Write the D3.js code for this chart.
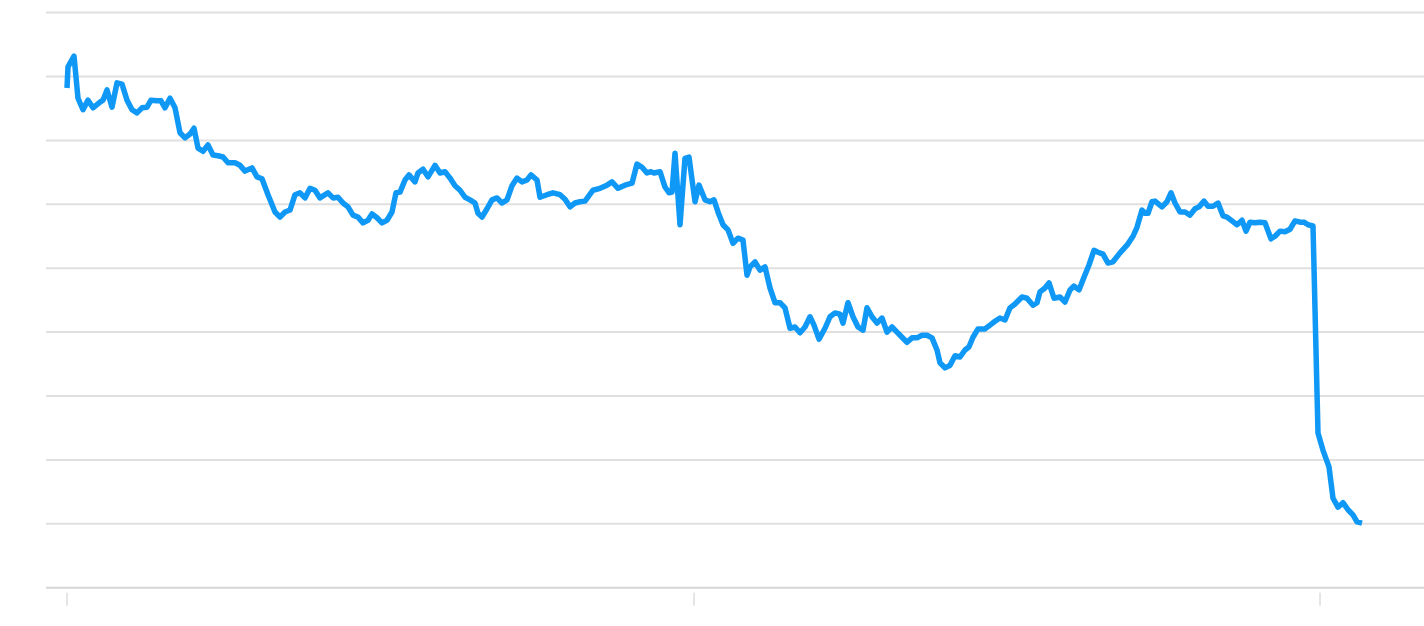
<!DOCTYPE html>
<html>
<head>
<meta charset="utf-8">
<script src="https://cdn.jsdelivr.net/npm/d3@7"></script>
<style>
  html, body { margin: 0; padding: 0; background: #ffffff; }
  svg { display: block; font-family: "Roboto", "Noto Sans", sans-serif; }
</style>
</head>
<body>
<svg id="chart" width="1424" height="626"></svg>
<script>
// x position of each observation (weeks since start) and its value
const weeks = [
  0, 0.2, 1.4, 2.2, 3.2, 4.2, 5.2, 6.6, 7.2, 8.0, 9.0, 10.0, 11.0, 12.0, 13.0, 14.0, 15.0, 16.0, 16.8, 18.0,
  18.8, 19.6, 20.6, 21.6, 22.6, 23.6, 24.6, 25.4, 26.2, 27.2, 28.2, 29.2, 30.2, 31.2, 32.2, 33.6, 34.6, 35.6, 37.0, 38.0,
  39.0, 40.2, 41.6, 42.6, 43.6, 44.6, 45.6, 46.6, 47.6, 48.6, 49.6, 50.6,
  52.2, 53.2, 54.2, 55.2, 56.2, 57.2, 58.2, 59.2, 60.2, 61.0, 62.0, 63.0, 64.0, 65.0, 65.8, 66.6, 67.6, 68.4, 69.6, 70.2,
  71.2, 72.2, 73.6, 74.6, 75.6, 76.6, 77.6, 78.6, 79.6, 80.6, 81.6, 82.2, 83.0, 84.0, 85.0, 86.0, 87.0, 88.0, 89.0, 90.0,
  91.0, 92.0, 92.8, 94.0, 94.6, 96.0, 97.2, 98.6, 99.6, 100.6, 101.6, 102.6, 103.6,
  105.2, 106.6, 108.0, 109.0, 110.2, 111.6, 113.0, 114.0, 115.0, 116.0, 116.8, 117.4, 118.6, 119.6, 120.4, 121.0, 121.6,
  122.6, 123.6, 124.4, 125.6, 126.4, 127.6, 128.6, 129.4, 130.2, 131.2, 132.2, 133.2, 134.2, 135.2, 136.0, 136.6, 137.6,
  138.6, 139.6, 140.6, 141.6, 142.6, 143.6, 144.6, 145.6, 146.6, 147.6, 148.6, 149.4, 150.4, 151.6, 152.6, 153.6, 154.6,
  155.2, 156.2, 157.2, 158.2, 159.2, 160.0, 161.0, 162.0, 163.0, 164.0, 165.0, 166.0, 167.0, 168.0, 169.0, 170.0, 171.0,
  172.0, 173.0, 174.0, 174.6, 175.6, 176.6, 177.6, 178.6, 179.6, 180.4, 181.2, 182.2, 183.6, 184.6, 185.6, 186.6, 187.6,
  188.6, 189.6, 191.0, 192.0, 193.2, 194.0, 194.6, 195.6, 196.4, 197.4, 198.6, 199.6, 200.6, 201.4, 202.4, 203.4, 204.4,
  205.4, 206.2,
  207.2, 208.2, 209.2, 210.6, 212.0, 213.2, 214.0, 215.0, 215.6, 216.2, 217.0, 217.6, 219.0, 220.0, 220.8, 221.6, 222.6,
  223.6, 224.6, 225.6, 226.4, 227.4, 228.2, 229.2, 230.2, 231.2, 232.0, 233.0, 234.0, 235.0, 235.8, 236.6, 237.6, 238.6,
  239.6, 240.8, 241.6, 242.6, 243.6, 244.6, 245.6, 246.6, 247.4, 248.2, 249.2, 250.2, 251.2, 252.4, 253.2, 254.2, 255.2,
  256.2, 257.2, 258.0, 259.0
];
const values = [
  78.2, 81.5, 83.2, 76.6, 74.8, 76.3, 75.1, 76.0, 76.3, 77.9, 75.2, 79.0, 78.8, 76.3, 74.8, 74.3, 75.1, 75.2, 76.3, 76.2,
  76.2, 75.1, 76.6, 75.1, 71.2, 70.4, 71.0, 71.9, 68.8, 68.3, 69.3, 67.7, 67.6, 67.4, 66.5, 66.5, 66.1, 65.2, 65.7, 64.3,
  64.0, 61.5, 58.8, 58.0, 58.8, 59.1, 61.5, 61.8, 61.0, 62.5, 62.2, 61.0,
  61.8, 61.0, 61.1, 60.2, 59.6, 58.3, 58.0, 57.1, 57.5, 58.5, 57.9, 57.1, 57.5, 58.8, 61.8, 61.9, 63.8, 64.6, 63.5, 64.9,
  65.5, 64.3, 66.1, 64.9, 65.1, 64.1, 62.9, 62.2, 61.1, 60.7, 60.2, 58.6, 58.0, 59.3, 60.7, 61.0, 60.2, 60.7, 62.9, 64.1,
  63.5, 63.8, 64.6, 63.8, 61.1, 61.5, 61.8, 61.5, 60.8, 59.6, 60.2, 60.4, 60.5,
  62.2, 62.5, 63.0, 63.5, 62.5, 63.0, 63.3, 66.3, 65.8, 64.9, 65.1, 64.9, 65.1, 62.7, 61.8, 61.9, 68.0,
  56.8, 67.2, 67.4, 60.4, 63.0, 60.7, 60.4, 60.7, 58.8, 56.8, 56.0, 53.9, 54.7, 54.4, 48.9, 50.2, 51.0,
  49.7, 50.2, 46.9, 44.6, 44.6, 43.8, 40.6, 40.8, 39.9, 40.8, 42.4, 41.1, 38.9, 40.6, 42.4, 43.0, 42.8,
  41.4, 44.6, 42.4, 40.8, 40.3, 43.8, 42.4, 41.4, 42.2, 40.0, 40.8, 40.0, 39.2, 38.4, 39.1, 39.1, 39.5,
  39.5, 39.1, 37.2, 35.2, 34.4, 34.8, 36.3, 36.1, 37.2, 37.7, 39.2, 40.5, 40.5, 41.1, 41.7, 42.2, 41.9,
  43.8, 44.4, 45.5, 45.3, 44.2, 44.6, 46.3, 46.9, 47.7, 45.3, 45.5, 44.7, 46.6, 47.2, 46.6, 48.6, 50.5,
  52.8, 52.5,
  52.2, 50.8, 51.0, 52.4, 53.6, 55.0, 56.4, 59.1, 58.6, 58.6, 60.4, 60.5, 59.6, 60.4, 61.8, 60.2, 58.8,
  58.8, 58.3, 59.3, 59.6, 60.5, 59.7, 59.7, 60.2, 58.2, 58.0, 57.4, 56.8, 57.5, 55.8, 57.2, 57.1, 57.2,
  57.1, 54.6, 55.0, 55.8, 55.7, 56.1, 57.4, 57.2, 57.2, 56.8, 56.6, 24.2, 21.5, 18.9, 14.0, 12.6, 13.3,
  12.2, 11.4, 10.3, 10.1
];
const yTicks = [0, 10, 20, 30, 40, 50, 60, 70, 80, 90];
const xTicks = [0, 125.4, 250.6];

const svg = d3.select("#chart");
const x = d3.scaleLinear().domain([0, 250.6]).range([67, 1320]);
const y = d3.scaleLinear().domain([0, 90]).range([587.7, 12.6]);

// horizontal gridlines
svg.append("g")
  .selectAll("line")
  .data(yTicks)
  .join("line")
  .attr("x1", 46)
  .attr("x2", 1424)
  .attr("y1", d => y(d))
  .attr("y2", d => y(d))
  .attr("stroke", d => d === 0 ? "#d6d6d6" : "#e0e0e0")
  .attr("stroke-width", 2);

// bottom ticks
svg.append("g")
  .selectAll("line")
  .data(xTicks)
  .join("line")
  .attr("x1", d => x(d))
  .attr("x2", d => x(d))
  .attr("y1", y(0) + 5)
  .attr("y2", y(0) + 18)
  .attr("stroke", "#cccccc")
  .attr("stroke-width", 1);

const line = d3.line()
  .x((d, i) => x(weeks[i]))
  .y(d => y(d));

svg.append("path")
  .datum(values)
  .attr("fill", "none")
  .attr("stroke", "#0f98f5")
  .attr("stroke-width", 5.5)
  .attr("stroke-linejoin", "round")
  .attr("stroke-linecap", "butt")
  .attr("d", line);
</script>
</body>
</html>
